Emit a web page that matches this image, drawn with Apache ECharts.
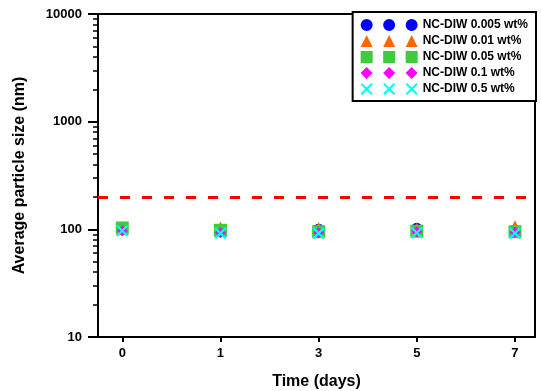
<!DOCTYPE html>
<html>
<head>
<meta charset="utf-8">
<script src="https://cdn.jsdelivr.net/npm/echarts@6/dist/echarts.min.js"></script>
<style>
  html, body { margin: 0; padding: 0; background: #fff; }
  #chart { width: 541px; height: 391px; }
</style>
</head>
<body>
<div id="chart"></div>
<script>
// Sampling days (category labels placed at equal spacing)
const dayLabels = ['0', '1', '3', '5', '7'];

// Average particle size (nm) per concentration
const nc0005 = [100, 96, 99, 101, 97];
const nc001  = [100, 104, 103, 102, 107];
const nc005  = [103, 98, 95, 96, 95];
const nc01   = [97, 93, 93, 95, 94];
const nc05   = [97, 92, 92, 93, 92];

const seriesNames = ['NC-DIW 0.005 wt%', 'NC-DIW 0.01 wt%', 'NC-DIW 0.05 wt%', 'NC-DIW 0.1 wt%', 'NC-DIW 0.5 wt%'];

// Reference size limit (dashed line)
const sizeLimit = [200];

// Y minor tick values
const yMinorTicks = [20, 30, 40, 50, 60, 70, 80, 90, 200, 300, 400, 500, 600, 700, 800, 900, 2000, 3000, 4000, 5000, 6000, 7000, 8000, 9000];

const colors = ['#0000ff', '#ff6600', '#3ccc3c', '#ff00ff', '#00ffff'];
const crossPath = 'path://M0,1.5L1.5,0L6,4.5L10.5,0L12,1.5L7.5,6L12,10.5L10.5,12L6,7.5L1.5,12L0,10.5L4.5,6Z';
const symbols = ['circle', 'triangle', 'rect', 'diamond', crossPath];
const symbolSizes = [12, 12, 13, 11, 12];

// Legend icons: three markers in a row, 57 x 12
function tri(dx) { return 'M' + (dx + 6) + ',0L' + (dx + 12) + ',12L' + dx + ',12Z'; }
function circ(dx) { return 'M' + dx + ',6A6,6 0 1,0 ' + (dx + 12) + ',6A6,6 0 1,0 ' + dx + ',6Z'; }
function sq(dx) { return 'M' + dx + ',0L' + (dx + 12) + ',0L' + (dx + 12) + ',12L' + dx + ',12Z'; }
function dia(dx) { return 'M' + (dx + 6) + ',0L' + (dx + 12) + ',6L' + (dx + 6) + ',12L' + dx + ',6Z'; }
function crs(dx) {
  const p = [[0,1.5],[1.5,0],[6,4.5],[10.5,0],[12,1.5],[7.5,6],[12,10.5],[10.5,12],[6,7.5],[1.5,12],[0,10.5],[4.5,6]];
  return 'M' + p.map(q => (q[0] + dx) + ',' + q[1]).join('L') + 'Z';
}
const offsets = [0, 22.5, 45];
const iconMakers = [circ, tri, sq, dia, crs];
const legendIcons = iconMakers.map(f => 'path://' + offsets.map(f).join(''));

const allValues = [nc0005, nc001, nc005, nc01, nc05];

const font = '"Liberation Sans", Arial, sans-serif';

const series = allValues.map((vals, i) => ({
  name: seriesNames[i],
  type: 'scatter',
  symbol: symbols[i],
  symbolSize: symbolSizes[i],
  itemStyle: { color: colors[i], opacity: 1 },
  data: vals.map((v, k) => [k, v]),
  z: 3 + i
}));

// Dashed limit line
series.push({
  name: 'limit',
  type: 'line',
  data: [],
  silent: true,
  markLine: {
    silent: true,
    symbol: 'none',
    label: { show: false },
    lineStyle: { color: '#ff0000', width: 3, type: [10, 12] },
    data: sizeLimit.map(v => ({ yAxis: v }))
  }
});

const chart = echarts.init(document.getElementById('chart'), null, { renderer: 'canvas' });
chart.setOption({
  animation: false,
  backgroundColor: '#ffffff',
  grid: {
    left: 98, right: 6, top: 14, bottom: 54,
    outerBoundsMode: 'none',
    containLabel: false,
    show: true, borderColor: '#000', borderWidth: 2, backgroundColor: 'transparent'
  },
  legend: {
    orient: 'vertical',
    right: 5,
    top: 12,
    padding: [7, 8, 6, 8],
    itemWidth: 57,
    itemHeight: 12,
    itemGap: 4,
    backgroundColor: '#fff',
    borderColor: '#000',
    borderWidth: 2,
    textStyle: { fontFamily: font, fontWeight: 'bold', fontSize: 12, color: '#000', lineHeight: 12 },
    data: seriesNames.map((n, i) => ({ name: n, icon: legendIcons[i] }))
  },
  xAxis: {
    type: 'value',
    min: -0.247,
    max: 4.204,
    name: 'Time (days)',
    nameLocation: 'middle',
    nameGap: 37,
    nameTextStyle: { fontFamily: font, fontWeight: 'bold', fontSize: 16, color: '#000' },
    axisLine: { onZero: false, lineStyle: { color: '#000', width: 2 } },
    axisTick: { customValues: [0, 1, 2, 3, 4], length: 5, lineStyle: { color: '#000', width: 2 } },
    axisLabel: {
      customValues: [0, 1, 2, 3, 4],
      formatter: v => dayLabels[Math.round(v)],
      margin: 10,
      fontFamily: font, fontWeight: 'bold', fontSize: 13, color: '#000'
    },
    splitLine: { show: false }
  },
  yAxis: [{
    type: 'log',
    logBase: 10,
    min: 10,
    max: 10000,
    interval: 1,
    name: 'Average particle size (nm)',
    nameLocation: 'middle',
    nameGap: 70,
    nameTextStyle: { fontFamily: font, fontWeight: 'bold', fontSize: 16, color: '#000' },
    axisLine: { show: true, onZero: false, lineStyle: { color: '#000', width: 2 } },
    axisTick: { show: true, length: 10, lineStyle: { color: '#000', width: 2 } },
    axisLabel: {
      formatter: v => String(Math.round(v)),
      margin: 16,
      fontFamily: font, fontWeight: 'bold', fontSize: 13, color: '#000'
    },
    splitLine: { show: false }
  }, {
    // minor ticks, placed in log10 space
    type: 'value',
    min: 1,
    max: 4,
    position: 'left',
    axisLine: { show: false, onZero: false },
    axisTick: { show: true, customValues: yMinorTicks.map(Math.log10), length: 5, lineStyle: { color: '#000', width: 1.5 } },
    axisLabel: { show: false },
    splitLine: { show: false }
  }],
  series: series
});
</script>
</body>
</html>
